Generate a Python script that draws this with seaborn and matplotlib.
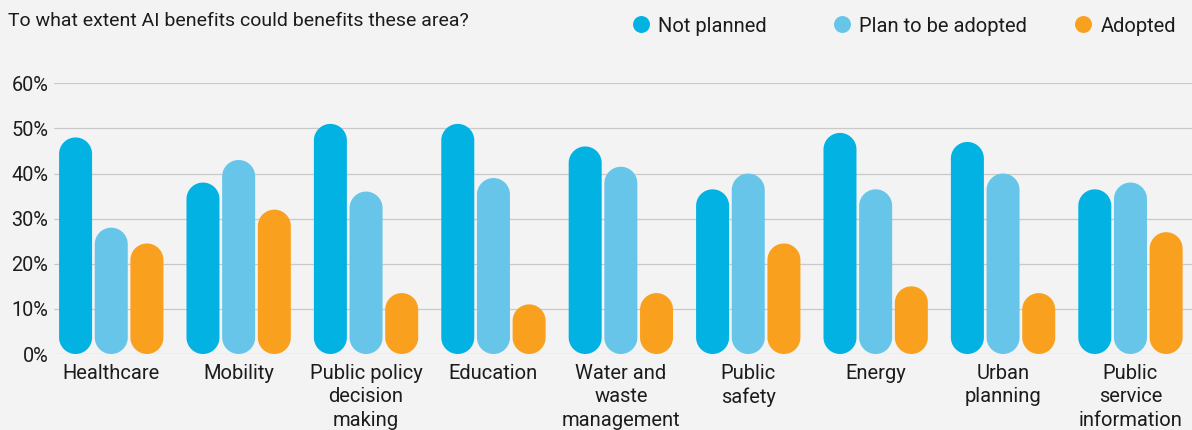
import numpy as np
import pandas as pd
import matplotlib
matplotlib.use("Agg")
import matplotlib.pyplot as plt
import seaborn as sns
from matplotlib.patches import Polygon
from matplotlib.lines import Line2D

# ---- data ----
categories = ["Healthcare", "Mobility", "Public policy\ndecision\nmaking", "Education",
              "Water and\nwaste\nmanagement", "Public\nsafety", "Energy", "Urban\nplanning",
              "Public\nservice\ninformation"]
series = ["Not planned", "Plan to be adopted", "Adopted"]
not_planned = [48, 38, 51, 51, 46, 36.5, 49, 47, 36.5]
plan_to_be_adopted = [28, 43, 36, 39, 41.5, 40, 36.5, 40, 38]
adopted = [24.5, 32, 13.5, 11, 13.5, 24.5, 15, 13.5, 27]
y_ticks = [0, 10, 20, 30, 40, 50, 60]
title = "To what extent AI benefits could benefits these area?"

colors = ["#02B2E2", "#66C5E9", "#F9A11F"]
bg = "#F3F3F3"
text_color = "#1C1C1C"

sns.set_theme(style="white")
plt.rcParams['font.family'] = ['Roboto', 'DejaVu Sans']

df = pd.DataFrame({
    "category": categories * 3,
    "series": np.repeat(series, len(categories)),
    "value": not_planned + plan_to_be_adopted + adopted,
})

W, H = 1192, 430
fig = plt.figure(figsize=(W / 100, H / 100), dpi=100)
fig.patch.set_facecolor(bg)
ax = fig.add_axes([54.3 / W, (H - 354) / H, (W - 54.3) / W, (354 - 83.3) / H])
ax.set_facecolor(bg)

sns.barplot(data=df, x="category", y="value", hue="series", order=categories,
            hue_order=series, palette=colors, width=0.84, gap=0.075, ax=ax,
            legend=False, errorbar=None, saturation=1)

ax.set_xlim(-0.447, 8.483)
ax.set_ylim(0, 60)
ax.set_yticks(y_ticks)
ax.set_yticklabels([f"{v}%" for v in y_ticks])
ax.yaxis.grid(True, color="#C9C9C9", lw=0.9)
ax.set_axisbelow(True)
for s in ax.spines.values():
    s.set_visible(False)
ax.set_xlabel("")
ax.set_ylabel("")
ax.tick_params(axis="y", length=0, pad=4.3, labelsize=14.3, labelcolor=text_color)
ax.tick_params(axis="x", length=0, pad=7.5, labelsize=14.5, labelcolor=text_color)
for lab in ax.get_xticklabels():
    lab.set_linespacing(1.27)

# reshape the drawn bars into pill shapes (round caps top and bottom)
px_x = ax.transData.transform((1, 0))[0] - ax.transData.transform((0, 0))[0]
px_y = ax.transData.transform((0, 1))[1] - ax.transData.transform((0, 0))[1]
t = np.linspace(0, np.pi, 48)
for p in list(ax.patches):
    x0, y0 = p.get_x(), p.get_y()
    w, h = p.get_width(), p.get_height()
    fc = p.get_facecolor()
    p.remove()
    r = w / 2
    ry = r * px_x / px_y
    cx = x0 + r
    top = np.column_stack([cx + r * np.cos(t), y0 + h - ry + ry * np.sin(t)])
    bot = np.column_stack([cx + r * np.cos(t + np.pi), y0 + ry + ry * np.sin(t + np.pi)])
    ax.add_patch(Polygon(np.vstack([top, bot]), closed=True, fc=fc, ec="none", zorder=3))

fig.text(8.3 / W, 1 - 26 / H, title, fontsize=14, color=text_color, va="baseline", ha="left")

# legend entries (one legend per entry, placed like the reference)
legend_left_px = [632.2, 833.5, 1074.8]
for name, c, lx in zip(series, colors, legend_left_px):
    h = Line2D([], [], marker="o", ls="", markersize=12.2, markerfacecolor=c,
               markeredgecolor="none")
    leg = fig.legend(handles=[h], labels=[name], frameon=False, loc="center left",
                     bbox_to_anchor=(lx / W, 1 - 26 / H), borderaxespad=0, borderpad=0,
                     handlelength=0.85, handletextpad=0.44, fontsize=14.5,
                     labelcolor=text_color)

fig.savefig("out.png", dpi=100, facecolor=bg)
